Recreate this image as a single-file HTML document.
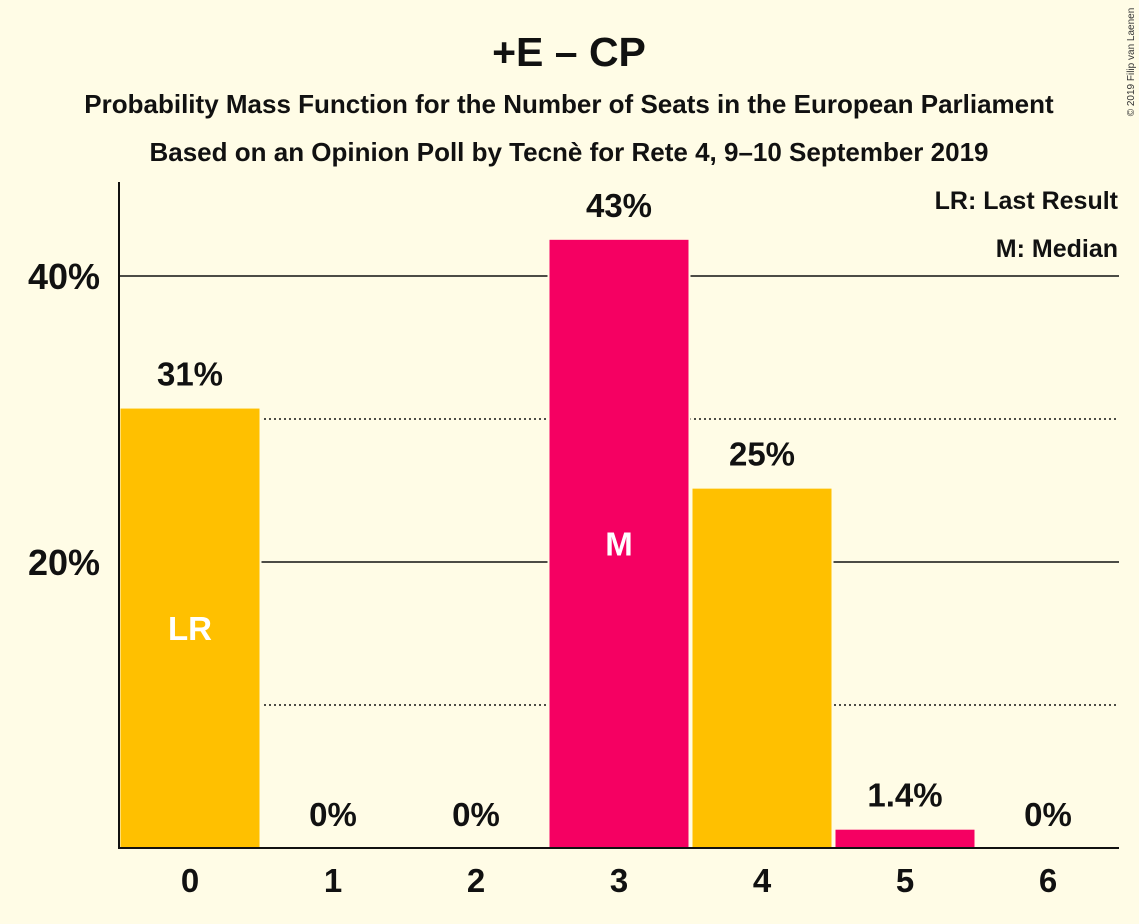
<!DOCTYPE html>
<html><head><meta charset="utf-8"><style>
html,body{margin:0;padding:0;background:#FFFCE6;}
svg{display:block;font-family:"Liberation Sans",sans-serif;}
</style></head><body>
<svg id="c" width="1139" height="924" viewBox="0 0 1139 924">
<rect width="1139" height="924" fill="#FFFCE6"/>
<text x="569" y="66" text-anchor="middle" font-size="41" font-weight="bold" fill="#111">+E – CP</text>
<text x="569" y="113" text-anchor="middle" font-size="26" font-weight="bold" fill="#111">Probability Mass Function for the Number of Seats in the European Parliament</text>
<text x="569" y="161" text-anchor="middle" font-size="26" font-weight="bold" fill="#111">Based on an Opinion Poll by Tecnè for Rete 4, 9–10 September 2019</text>
<text transform="translate(1134,62) rotate(-90)" text-anchor="middle" font-size="10" fill="#333">© 2019 Filip van Laenen</text>
<g id="grid"></g>
<g id="bars"></g>
<line x1="119" y1="182" x2="119" y2="849" stroke="#111" stroke-width="2"/>
<line x1="118" y1="848" x2="1119" y2="848" stroke="#111" stroke-width="2"/>
<text x="1118" y="209" text-anchor="end" font-size="25" font-weight="bold" fill="#111">LR: Last Result</text>
<text x="1118" y="257" text-anchor="end" font-size="25" font-weight="bold" fill="#111">M: Median</text>
</svg>
<script>
const categories=["0","1","2","3","4","5","6"];
const values=[30.8,0,0,42.6,25.2,1.35,0];
const valueLabels=["31%","0%","0%","43%","25%","1.4%","0%"];
const colors=["#FFC000","#F50062","#FFC000","#F50062","#FFC000","#F50062","#FFC000"];
const barMarks=["LR","","","M","","",""];
const yTicks=[20,40];
const yMinor=[10,30];
const yTickLabels=["20%","40%"];
const NS="http://www.w3.org/2000/svg";
const x0=119,step=143,yBase=848,pxPer=14.3;
const y=v=>yBase-v*pxPer;
const xc=i=>x0+step*i+71;
function mk(t,a){const e=document.createElementNS(NS,t);for(const k in a)e.setAttribute(k,a[k]);return e;}
const grid=document.getElementById('grid'),bars=document.getElementById('bars');
yMinor.forEach(v=>{const l=mk('line',{x1:119,x2:1119,y1:y(v),y2:y(v),stroke:'#111','stroke-width':1.5,'stroke-dasharray':'2,3'});


grid.appendChild(l);});
yTicks.forEach((v,i)=>{const l=mk('line',{x1:119,x2:1119,y1:y(v),y2:y(v),stroke:'#111','stroke-width':1.5});


grid.appendChild(l);
const t=mk('text',{x:100,y:y(v)+13,'text-anchor':'end','font-size':36,'font-weight':'bold',fill:'#111'});t.textContent=yTickLabels[i];


grid.appendChild(t);});
categories.forEach((c,i)=>{const v=values[i];
if(v>0){const r=mk('rect',{x:x0+step*i+0.5,y:y(v),width:141,height:yBase-y(v),fill:colors[i],stroke:'#FFFCE6','stroke-width':2});


bars.appendChild(r);}
const t=mk('text',{x:xc(i),y:y(v)-22,'text-anchor':'middle','font-size':33,'font-weight':'bold',fill:'#111'});t.textContent=valueLabels[i];


bars.appendChild(t);
if(barMarks[i]){const m=mk('text',{x:xc(i),y:y(v/2)+12,'text-anchor':'middle','font-size':33,'font-weight':'bold',fill:'#fff'});m.textContent=barMarks[i];


bars.appendChild(m);}
const xl=mk('text',{x:xc(i),y:892,'text-anchor':'middle','font-size':33,'font-weight':'bold',fill:'#111'});xl.textContent=c;


bars.appendChild(xl);});
</script>
</body></html>
